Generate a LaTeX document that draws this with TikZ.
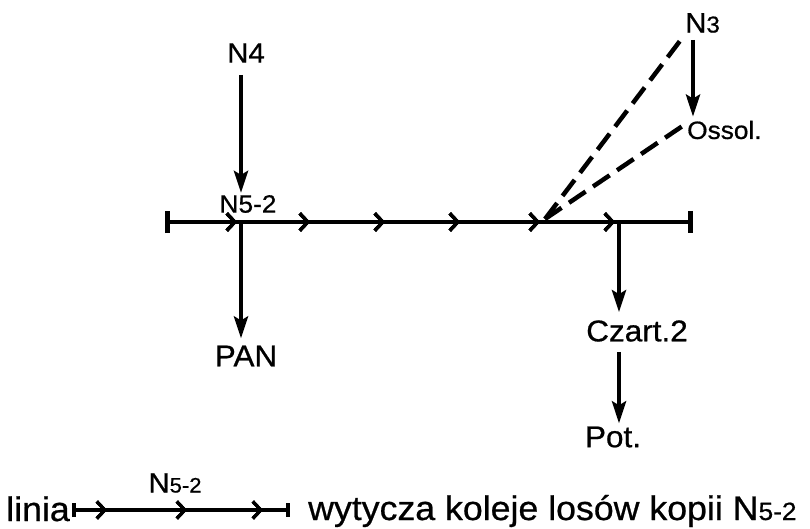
\documentclass[tikz,border=0pt]{standalone}
\usepackage{fontspec}
\setmainfont{Liberation Sans}[FakeStretch=1.05,FakeBold=0.7]
\usetikzlibrary{arrows.meta,decorations.markings}

% smaller figures after the letter N
\newcommand\lowfig[2]{{\fontsize{#1}{#1}\selectfont #2}}

\tikzset{
  lbl/.style={inner sep=0pt, font=\fontsize{30}{30}\selectfont},
  lblm/.style={inner sep=0pt, font=\fontsize{28}{28}\selectfont},
  lbls/.style={inner sep=0pt, font=\fontsize{25}{25}\selectfont},
  legendtxt/.style={inner sep=0pt, font=\fontsize{34}{34}\selectfont},
  stem/.style={line width=4.2pt, -{Stealth[length=22pt,width=14pt,inset=4pt]}},
  track/.style={line width=4.2pt,
    {Bar[width=22pt,line width=5pt]}-{Bar[width=22pt,line width=5pt]}},
  legendtrack/.style={line width=3.6pt,
    {Bar[width=14pt,line width=4pt]}-{Bar[width=14pt,line width=4pt]}},
  chevron/.style={postaction={decorate},
    decoration={markings, mark=at position #1 with
      {\arrow{Straight Barb[length=8pt,width=17pt,line width=3.2pt]}}}},
  link/.style={line width=4.5pt, dash pattern=on 20pt off 9pt},
}

\begin{document}
\begin{tikzpicture}[x=1pt,y=-1pt]
\useasboundingbox (0,0) rectangle (810,529);

% points on the main line
\coordinate (L)  at (165,222);
\coordinate (R)  at (693,222);
\coordinate (J1) at (241,222);
\coordinate (J2) at (545,219);
\coordinate (J3) at (619,222);

% labels
\node[lblm] (N4)  at (246,53) {N4};
\node[lbls] (N52) at (248,204) {N5-2};
\node[lbl]  (PAN) at (246,356) {PAN};
\node[lbl]  (Cz)  at (637,331) {Czart.2};
\node[lbl]  (Pot) at (613,437) {Pot.};
\node[lblm, anchor=west] (N3) at (685,23) {N\lowfig{23}{3}};
\node[lbls, anchor=west] (Oss) at (687,130) {Ossol.};

% main line with direction marks
\draw[track,
  chevron=72pt, chevron=145pt, chevron=220pt,
  chevron=295pt, chevron=375pt, chevron=450pt] (L) -- (R);

% vertical arrows
\draw[stem, shorten <=12pt, shorten >=2pt] (N4.south -| J1) -- (N52.north -| J1);
\draw[stem, shorten >=7pt] (J1) -- (PAN.north -| J1);
\draw[stem, shorten >=8pt] (J3) -- (Cz.north -| J3);
\draw[stem, shorten <=10pt, shorten >=3pt] (Cz.south -| J3) -- (Pot.north -| J3);
\draw[stem] ([xshift=8pt,yshift=-7pt]N3.south west) -- ([xshift=6pt,yshift=4pt]Oss.north west);

% dashed links into the main line
\draw[link] (J2) -- ([xshift=-2pt,yshift=-4pt]N3.south west);
\draw[link] (J2) -- ([xshift=-3pt,yshift=5pt]Oss.west);

% legend
\coordinate (LA) at (72,510);
\coordinate (LB) at (290,510);
\node[legendtxt, anchor=base east] (lin) at (70,521) {linia};
\draw[legendtrack, chevron=35pt, chevron=115pt, chevron=191pt] (LA) -- (LB);
\node[lblm] (N52b) at (175,483) {N\lowfig{21}{5-2}};
\node[legendtxt, anchor=base west] (txt) at (308,520)
  {wytycza koleje losów kopii N\lowfig{25}{5-2}};
\end{tikzpicture}
\end{document}
